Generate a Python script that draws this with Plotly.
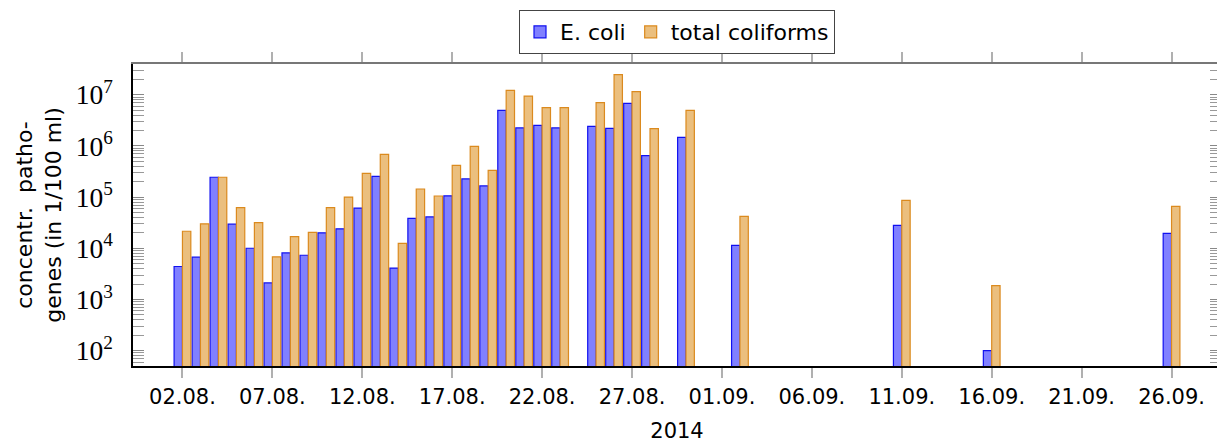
import plotly.graph_objects as go

dates = ["2014-08-02", "2014-08-03", "2014-08-04", "2014-08-05", "2014-08-06", "2014-08-07",
         "2014-08-08", "2014-08-09", "2014-08-10", "2014-08-11", "2014-08-12", "2014-08-13",
         "2014-08-14", "2014-08-15", "2014-08-16", "2014-08-17", "2014-08-18", "2014-08-19",
         "2014-08-20", "2014-08-21", "2014-08-22", "2014-08-23", "2014-08-25", "2014-08-26",
         "2014-08-27", "2014-08-28", "2014-08-30", "2014-09-02", "2014-09-11", "2014-09-16",
         "2014-09-26"]

ecoli = [4.4e3, 6.7e3, 2.44e5, 2.95e4, 1.0e4, 2.1e3,
         8.1e3, 7.3e3, 2.0e4, 2.4e4, 6.1e4, 2.55e5,
         4.1e3, 3.85e4, 4.1e4, 1.06e5, 2.26e5, 1.65e5,
         4.96e6, 2.24e6, 2.52e6, 2.24e6, 2.41e6, 2.2e6,
         6.8e6, 6.45e5, 1.47e6, 1.14e4, 2.81e4, 1.0e2,
         1.96e4]

coliforms = [2.15e4, 3.0e4, 2.44e5, 6.2e4, 3.16e4, 6.8e3,
             1.69e4, 2.05e4, 6.2e4, 1.0e5, 2.9e5, 6.85e5,
             1.25e4, 1.44e5, 1.05e5, 4.18e5, 9.8e5, 3.34e5,
             1.22e7, 9.4e6, 5.57e6, 5.57e6, 6.98e6, 2.46e7,
             1.15e7, 2.17e6, 4.96e6, 4.2e4, 8.65e4, 1.86e3,
             6.6e4]

series_names = ["E. coli", "total coliforms"]

SANS = "DejaVu Sans"
SERIF = "Liberation Serif"

fig = go.Figure()
fig.add_trace(go.Bar(x=dates, y=ecoli, name=series_names[0],
                     marker=dict(color="#8080FF", line=dict(color="#1010F0", width=1.2))))
fig.add_trace(go.Bar(x=dates, y=coliforms, name=series_names[1],
                     marker=dict(color="#EBBF7E", line=dict(color="#DB8A1E", width=1.2))))

fig.update_layout(
    width=1217, height=435,
    margin=dict(l=125, r=2, t=56, b=77),
    paper_bgcolor="white", plot_bgcolor="white",
    barmode="group", bargap=0.07, bargroupgap=0.0,
    font=dict(family=SANS, size=21, color="black"),
    legend=dict(orientation="h", x=0.5, xanchor="center", y=1.033, yanchor="bottom",
                bordercolor="#444", borderwidth=1, font=dict(family=SANS, size=22),
                itemwidth=30, tracegroupgap=0),
    xaxis=dict(
        type="date",
        range=["2014-07-30 06:00", "2014-09-28 18:00"],
        tick0="2014-08-02", dtick=5 * 86400000,
        tickformat="%d.%m.",
        ticks="outside", ticklen=10, tickcolor="#b0b0b0", tickwidth=2,
        showline=True, linecolor="black", linewidth=1.5,
        showgrid=False, zeroline=False,
        tickfont=dict(family=SANS, size=21),
        ticklabelstandoff=1,
        title=dict(text="2014", font=dict(family=SANS, size=21), standoff=15),
    ),
    xaxis2=dict(
        type="date", matches="x", overlaying="x", side="top",
        range=["2014-07-30 06:00", "2014-09-28 18:00"],
        tick0="2014-08-02", dtick=5 * 86400000,
        ticks="outside", ticklen=10, tickcolor="#b0b0b0", tickwidth=2,
        showticklabels=False,
        showline=True, linecolor="#777", linewidth=1.5,
        showgrid=False, zeroline=False,
    ),
    yaxis=dict(
        type="log", range=[1.70, 7.60], dtick=1,
        exponentformat="power",
        ticks="inside", ticklen=11, tickcolor="#888", tickwidth=1,
        minor=dict(ticks="inside", ticklen=7, tickcolor="#999", tickwidth=1, showgrid=False),
        showline=True, linecolor="black", linewidth=1.5, mirror="allticks",
        showgrid=False, zeroline=False,
        tickfont=dict(family=SERIF, size=22),
        ticklabelstandoff=14,
        title=dict(text="concentr.  patho-<br>genes (in 1/100 ml)",
                   font=dict(family=SANS, size=22), standoff=8),
    ),
)

# invisible trace to bind the top axis
fig.add_trace(go.Scatter(x=[dates[0]], y=[ecoli[0]], xaxis="x2", mode="markers",
                         marker=dict(opacity=0), showlegend=False, hoverinfo="skip"))

fig.write_html("out.html")
